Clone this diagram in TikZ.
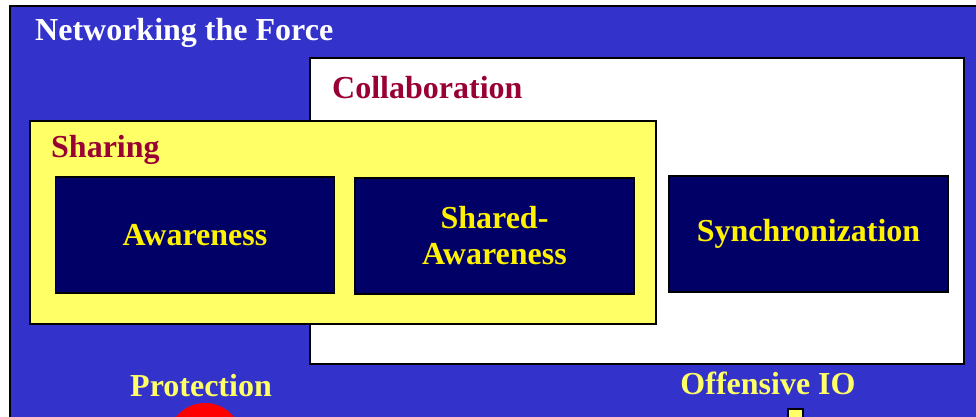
\documentclass[tikz,border=0pt]{standalone}
\usepackage{fontspec}
\setmainfont{Liberation Serif}
\definecolor{frameblue}{HTML}{3333CC}
\definecolor{navy}{HTML}{000066}
\definecolor{paleyellow}{HTML}{FFFF66}
\definecolor{darkred}{HTML}{990033}

\begin{document}
\begin{tikzpicture}[x=1pt,y=-1pt,
  box/.style={draw=black,line width=1.2pt},
  areabox/.style={box,fill=navy,minimum width=279pt,minimum height=116pt,
    inner sep=0pt,text=yellow,align=center,font=\bfseries\fontsize{32}{36}\selectfont},
  heading/.style={anchor=base west,inner sep=0pt,font=\bfseries\fontsize{32}{36}\selectfont},
  label/.style={anchor=base,inner sep=0pt,text=paleyellow,font=\bfseries\fontsize{32}{36}\selectfont}]
  \useasboundingbox (0,0) rectangle (976,417);
  \fill[white] (0,0) rectangle (976,417);
  \draw[box,fill=frameblue] (10,6) rectangle (990,440);
  \draw[box,fill=white] (310,58) rectangle (964,364);
  \draw[box,fill=paleyellow] (30,121) rectangle (656,324);
  \node[heading,text=white] (title) at (35,41) {Networking the Force};
  \node[heading,text=darkred] (collab) at (332,99) {Collaboration};
  \node[heading,text=darkred] (sharing) at (51,157) {Sharing};
  \node[areabox] (aware) at (195,235) {Awareness};
  \node[areabox] (shared) at (494.5,236) {Shared-\\Awareness};
  \node[areabox] (sync) at (808.5,234) {Synchronization};
  \node[label] (protect) at (201,396) {Protection};
  \node[label] (offense) at (768,394) {Offensive IO};
  \fill[red] (205,440) circle (37);
  \draw[box,fill=paleyellow] (788,409) rectangle (803,440);
\end{tikzpicture}
\end{document}
